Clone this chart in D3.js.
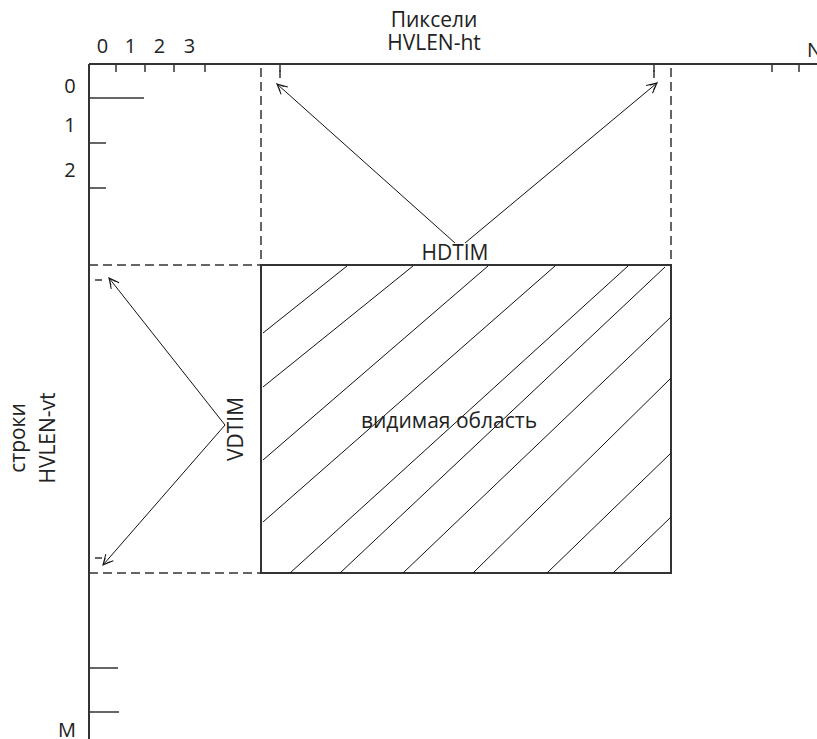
<!DOCTYPE html>
<html>
<head>
<meta charset="utf-8">
<script src="https://cdn.jsdelivr.net/npm/d3@7"></script>
<style>
  html, body { margin: 0; padding: 0; background: #fff; }
  svg text { font-family: "Open Sans", "Noto Sans", sans-serif; fill: #222; }
</style>
</head>
<body>
<svg id="chart" width="817" height="739"></svg>
<script>
// ---- data (in diagram units: pixel columns / rows from origin) ----
const xAxisTitle = ["Пиксели", "HVLEN-ht"];
const yAxisTitle = ["строки", "HVLEN-vt"];
const xTicks = [27, 56, 85, 116, 191, 565, 683, 710];        // top axis tick positions
const xCellLabels = ["0", "1", "2", "3"];                     // labels between first ticks
const xCellBounds = [0, 27, 56, 85, 116];
const xEndLabel = "N";
const xEndCell = [718, 740];
const yTicks = [34, 79, 124, 604, 648];                       // left axis tick positions
const yTickLen = [55, 17, 17, 29, 30];
const yCellLabels = ["0", "1", "2"];
const yCellBounds = [0, 34, 79, 124];
const yEndLabel = "M";
const yEndCell = [648, 675];
const hdtim = [172, 582];                                     // visible columns
const vdtim = [201, 509];                                     // visible rows
const hMarks = [565, 191];                                    // short markers at arrow targets (x)
const vMarks = [216, 494];                                    // short markers at arrow targets (y)
const hArrowFrom = [[366, 179], [376, 179]];
const hArrowTo = [[188, 20], [568, 19]];
const vArrowFrom = [136, 361];
const vArrowTo = [[20, 214], [14, 501]];
const regionLabel = "видимая область";
const hLabel = "HDTIM";
const vLabel = "VDTIM";
// hatch lines: [x1, y1, x2, y2]
const hatch = [
  [174, 269, 258, 202],
  [174, 323, 324, 202],
  [174, 396, 399, 202],
  [174, 458, 466, 202],
  [201, 509, 539, 202],
  [251, 509, 576, 203],
  [314, 509, 582, 253],
  [384, 509, 582, 314],
  [458, 509, 582, 389],
  [524, 509, 582, 453]
];

// ---- scales ----
const x = d3.scaleLinear().domain([0, 728]).range([89, 817]);
const y = d3.scaleLinear().domain([0, 675]).range([64, 739]);

const svg = d3.select("#chart");
const ink = "#333";
const fs = 21;

// markers
const defs = svg.append("defs");
defs.append("marker")
  .attr("id", "arr").attr("viewBox", "0 0 12 12")
  .attr("refX", 11).attr("refY", 6)
  .attr("markerWidth", 12).attr("markerHeight", 12)
  .attr("markerUnits", "userSpaceOnUse")
  .attr("orient", "auto")
  .append("path")
  .attr("d", "M1,1 L11,6 L1,11 M4,3 L11,6 L4,9")
  .attr("fill", "none").attr("stroke", "#111").attr("stroke-width", 1);

// top axis
svg.append("line")
  .attr("x1", x(0)).attr("x2", x(728)).attr("y1", y(0)).attr("y2", y(0))
  .attr("stroke", ink).attr("stroke-width", 2);
svg.selectAll(".xt").data(xTicks).join("line")
  .attr("x1", d => x(d)).attr("x2", d => x(d))
  .attr("y1", y(0)).attr("y2", y(0) + 8)
  .attr("stroke", ink).attr("stroke-width", 1.5);
svg.selectAll(".xl").data(xCellLabels).join("text")
  .attr("x", (d, i) => x((xCellBounds[i] + xCellBounds[i + 1]) / 2))
  .attr("y", 53).attr("text-anchor", "middle").attr("font-size", 20)
  .text(d => d);
svg.append("text")
  .attr("x", x(xEndCell[0])).attr("y", 57)
  .attr("text-anchor", "start").attr("font-size", 20).text(xEndLabel);

// left axis
svg.append("line")
  .attr("x1", x(0)).attr("x2", x(0)).attr("y1", y(0)).attr("y2", y(675))
  .attr("stroke", ink).attr("stroke-width", 2);
svg.selectAll(".yt").data(yTicks).join("line")
  .attr("x1", x(0)).attr("x2", (d, i) => x(0) + yTickLen[i])
  .attr("y1", d => y(d)).attr("y2", d => y(d))
  .attr("stroke", ink).attr("stroke-width", 1.5);
svg.selectAll(".yl").data(yCellLabels).join("text")
  .attr("x", 70)
  .attr("y", (d, i) => y((yCellBounds[i] + yCellBounds[i + 1]) / 2) + 11.5)
  .attr("text-anchor", "middle").attr("font-size", 20)
  .text(d => d);
svg.append("text")
  .attr("x", 67).attr("y", y((yEndCell[0] + yEndCell[1]) / 2) + 11.5)
  .attr("text-anchor", "middle").attr("font-size", 20).text(yEndLabel);

// axis titles
svg.selectAll(".xtit").data(xAxisTitle).join("text")
  .attr("x", 434).attr("y", (d, i) => 27 + i * 23)
  .attr("text-anchor", "middle").attr("font-size", fs).text(d => d);
svg.selectAll(".ytit").data(yAxisTitle).join("text")
  .attr("transform", (d, i) => `translate(${i === 0 ? 25 : 55},438) rotate(-90)`)
  .attr("text-anchor", "middle").attr("font-size", fs).text(d => d);

// dashed guides
const dash = "9,5";
svg.selectAll(".vd").data(hdtim).join("line")
  .attr("x1", d => x(d)).attr("x2", d => x(d))
  .attr("y1", y(4)).attr("y2", y(vdtim[0]))
  .attr("stroke", ink).attr("stroke-width", 1.5).attr("stroke-dasharray", dash);
svg.selectAll(".hd").data(vdtim).join("line")
  .attr("x1", x(0)).attr("x2", x(hdtim[0]))
  .attr("y1", d => y(d)).attr("y2", d => y(d))
  .attr("stroke", ink).attr("stroke-width", 1.5).attr("stroke-dasharray", dash);

// short markers
svg.selectAll(".hm").data(hMarks).join("line")
  .attr("x1", d => x(d)).attr("x2", d => x(d))
  .attr("y1", y(6)).attr("y2", y(14))
  .attr("stroke", ink).attr("stroke-width", 1.5);
svg.selectAll(".vm").data(vMarks).join("line")
  .attr("x1", x(6)).attr("x2", x(13))
  .attr("y1", d => y(d)).attr("y2", d => y(d))
  .attr("stroke", ink).attr("stroke-width", 1.5);

// visible region rectangle
svg.append("rect")
  .attr("x", x(hdtim[0])).attr("y", y(vdtim[0]))
  .attr("width", x(hdtim[1]) - x(hdtim[0])).attr("height", y(vdtim[1]) - y(vdtim[0]))
  .attr("fill", "none").attr("stroke", ink).attr("stroke-width", 2);

// hatch
svg.selectAll(".ha").data(hatch).join("line")
  .attr("x1", d => x(d[0])).attr("y1", d => y(d[1]))
  .attr("x2", d => x(d[2])).attr("y2", d => y(d[3]))
  .attr("stroke", "#111").attr("stroke-width", 1);

// arrows
hArrowTo.forEach((t, i) => {
  svg.append("line")
    .attr("x1", x(hArrowFrom[i][0])).attr("y1", y(hArrowFrom[i][1]))
    .attr("x2", x(t[0])).attr("y2", y(t[1]))
    .attr("stroke", "#111").attr("stroke-width", 1)
    .attr("marker-end", "url(#arr)");
});
vArrowTo.forEach(t => {
  svg.append("line")
    .attr("x1", x(vArrowFrom[0])).attr("y1", y(vArrowFrom[1]))
    .attr("x2", x(t[0])).attr("y2", y(t[1]))
    .attr("stroke", "#111").attr("stroke-width", 1)
    .attr("marker-end", "url(#arr)");
});

// labels
svg.append("text")
  .attr("x", 455).attr("y", 260)
  .attr("text-anchor", "middle").attr("font-size", fs).text(hLabel);
svg.append("text")
  .attr("transform", `translate(243,429) rotate(-90)`)
  .attr("text-anchor", "middle").attr("font-size", fs).text(vLabel);
svg.append("text")
  .attr("x", 449).attr("y", 428)
  .attr("text-anchor", "middle").attr("font-size", fs).text(regionLabel);
</script>
</body>
</html>
